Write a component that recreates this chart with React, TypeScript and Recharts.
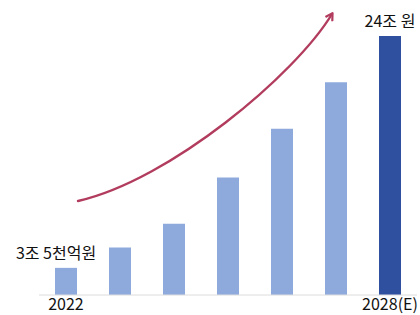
import React from 'react';
import { BarChart, Bar, XAxis, YAxis, Cell, LabelList, Customized } from 'recharts';

const years = ['2022', '2023', '2024', '2025', '2026', '2027', '2028(E)'];
const marketSize = [3.5, 5.3, 7.4, 11.5, 15.8, 19.9, 24];
const valueLabels = ['3조 5천억원', '', '', '', '', '', '24조 원'];
const tickLabels = ['2022', '', '', '', '', '', '2028(E)'];
const barColors = ['#8eaadc', '#8eaadc', '#8eaadc', '#8eaadc', '#8eaadc', '#8eaadc', '#2f4f9f'];

const data = years.map((y, i) => ({ year: y, value: marketSize[i] }));

const FONT = '"Noto Sans CJK KR", "Noto Sans", sans-serif';

const renderLabel = (props: any) => {
  const { x, y, width, index } = props;
  const t = valueLabels[index];
  if (!t) return null;
  const dx = index === 0 ? -10 : 0;
  return (
    <text x={x + width / 2 + dx} y={y - 9} textAnchor="middle" fontSize={16} fill="#111" fontFamily={FONT}>
      {t}
    </text>
  );
};

const TrendArrow = () => (
  <g>
    <defs>
      <marker id="arrowHead" markerWidth="10" markerHeight="10" refX="7" refY="5" orient="auto" markerUnits="userSpaceOnUse">
        <path d="M1,1 L8,5 L1,9" fill="none" stroke="#b23c5e" strokeWidth={2.2} strokeLinejoin="round" />
      </marker>
    </defs>
    <path
      d="M78,201 C170,180 295,75 332,14"
      fill="none"
      stroke="#b23c5e"
      strokeWidth={2.4}
      strokeLinecap="round"
      markerEnd="url(#arrowHead)"
    />
  </g>
);

export default function App() {
  return (
    <div style={{ position: 'absolute', left: 0, top: 0, width: 420, height: 315, background: '#fff', fontFamily: FONT }}>
      <BarChart width={420} height={315} data={data} margin={{ top: 36, right: 3, left: 39, bottom: 0 }}>
        <XAxis
          dataKey="year"
          interval={0}
          tickLine={false}
          tickSize={2}
          tickMargin={2}
          axisLine={{ stroke: '#dcdcdc', strokeWidth: 1 }}
          height={20}
          tickFormatter={(_v: any, i: number) => tickLabels[i]}
          tick={{ fill: '#111', fontSize: 16, fontFamily: FONT }}
        />
        <YAxis hide domain={[1.1, 24]} allowDataOverflow />
        <Bar dataKey="value" barSize={22} isAnimationActive={false}>
          {data.map((_d, i) => (
            <Cell key={i} fill={barColors[i]} />
          ))}
          <LabelList dataKey="value" content={renderLabel} />
        </Bar>
        <Customized component={<TrendArrow />} />
      </BarChart>
    </div>
  );
}
